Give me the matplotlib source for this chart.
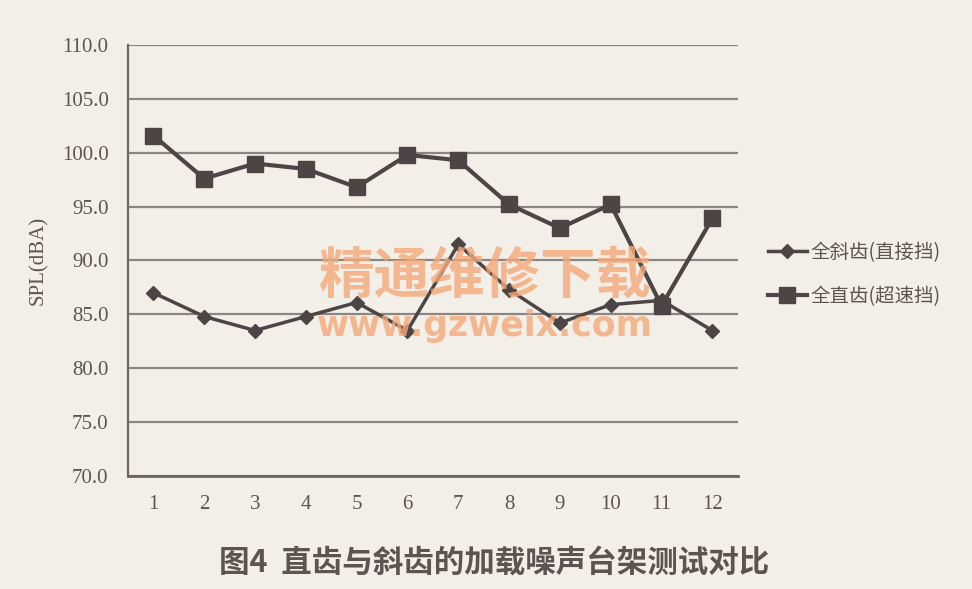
import matplotlib
matplotlib.use("Agg")
import matplotlib.pyplot as plt

# data
points = [1, 2, 3, 4, 5, 6, 7, 8, 9, 10, 11, 12]
helical = [87.0, 84.8, 83.5, 84.8, 86.1, 83.5, 91.5, 87.3, 84.2, 85.9, 86.3, 83.5]
straight = [101.6, 97.6, 99.0, 98.5, 96.8, 99.8, 99.3, 95.2, 93.0, 95.2, 85.8, 93.9]
labels = ["全斜齿(直接挡)", "全直齿(超速挡)"]
yticks = [70, 75, 80, 85, 90, 95, 100, 105, 110]

bg = "#f2eee8"
ink = "#4b4645"
txt = "#5a5553"

plt.rcParams['font.family'] = ['Noto Sans CJK SC', 'DejaVu Sans']

fig = plt.figure(figsize=(9.72, 5.89), dpi=100, facecolor=bg)
ax = fig.add_axes([0.1317, 0.1919, 0.6273, 0.7317])
ax.set_facecolor(bg)

ax.plot(points, helical, color=ink, lw=2.5, marker="D", ms=7, label=labels[0])
ax.plot(points, straight, color=ink, lw=3, marker="s", ms=11, label=labels[1])

ax.set_xlim(0.5, 12.5)
ax.set_ylim(70, 110)
ax.set_yticks(yticks)
ax.set_yticklabels([f"{v:.1f}" for v in yticks], family="Liberation Serif", fontsize=15, color=txt)
ax.set_xticks(points)
ax.set_xticklabels([str(p) for p in points], family="Liberation Serif", fontsize=15, color=txt)
ax.tick_params(length=0)
ax.tick_params(axis="x", pad=14)
ax.tick_params(axis="y", pad=14)
ax.grid(axis="y", color="#8a8684", lw=1.6)
ax.set_axisbelow(True)
for s in ["top", "right"]:
    ax.spines[s].set_visible(False)
ax.spines["left"].set_color("#6b6664")
ax.spines["bottom"].set_color("#6b6664")
ax.spines["left"].set_linewidth(1.6)
ax.spines["bottom"].set_linewidth(2)

ax.set_ylabel("SPL(dBA)", family="Liberation Serif", fontsize=15, color=txt, labelpad=10)

leg = fig.legend(loc="center left", bbox_to_anchor=(0.772, 0.534), frameon=False,
                 fontsize=14, labelspacing=1.2, handlelength=2.0, handletextpad=0.2)
for t in leg.get_texts():
    t.set_color(txt)

fig.text(0.508, 0.018, "图4  直齿与斜齿的加载噪声台架测试对比", ha="center", va="bottom",
         fontsize=22, fontweight="bold", color="#5a5553")

# watermark
fig.text(0.499, 0.53, "精通维修下载", ha="center", va="center", fontsize=40,
         fontweight="bold", color="#f4a878", alpha=0.8)
fig.text(0.499, 0.447, "www.gzweix.com", ha="center", va="center", fontsize=25,
         fontweight="bold", family="DejaVu Sans", color="#f4a878", alpha=0.8)

fig.savefig("out.png", dpi=100, facecolor=bg)
